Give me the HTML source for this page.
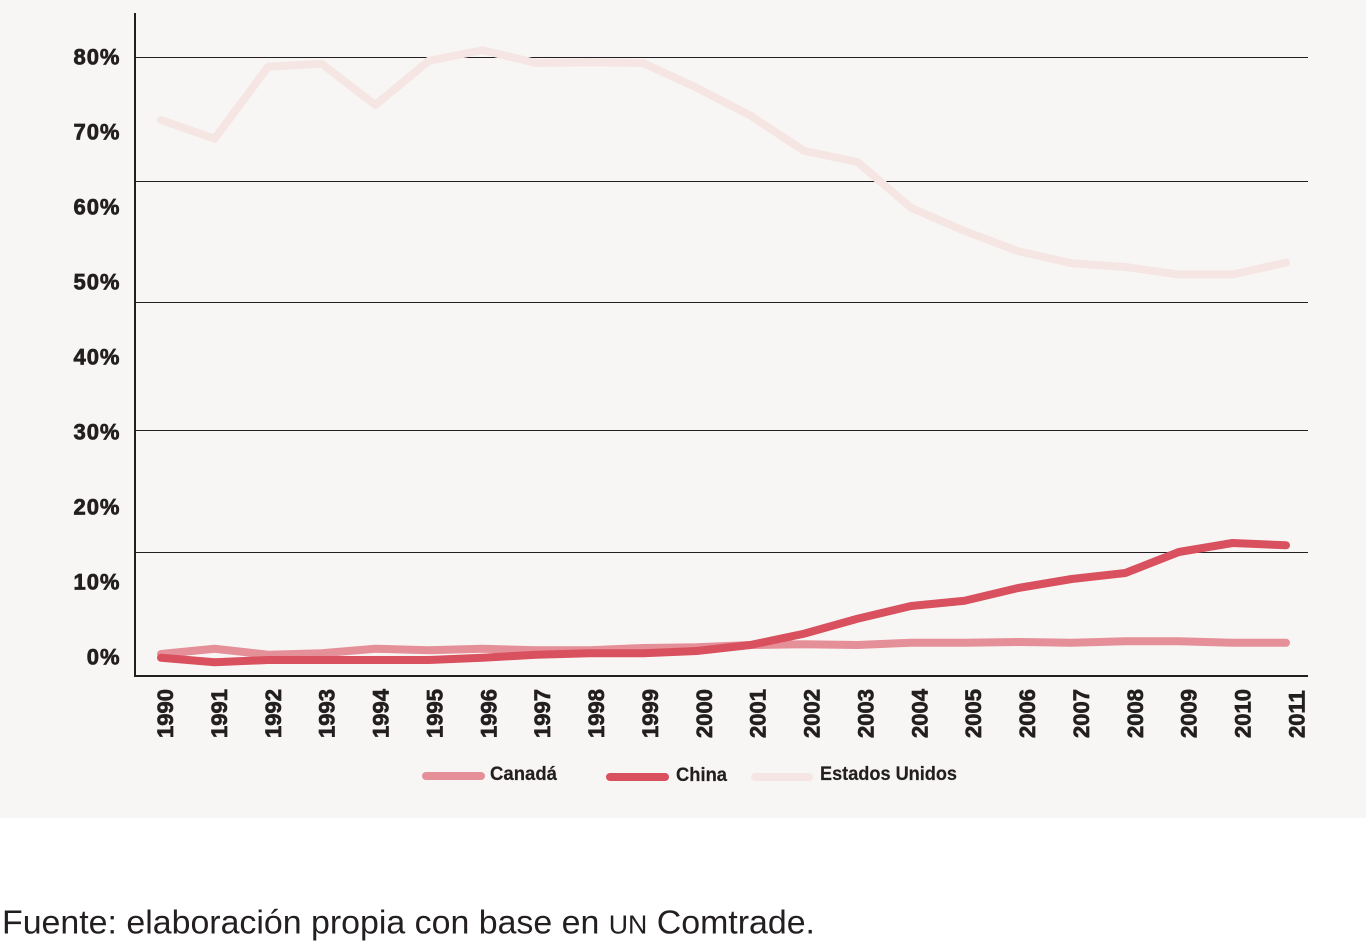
<!DOCTYPE html>
<html lang="es">
<head>
<meta charset="utf-8">
<title>Fuente: UN Comtrade</title>
<style>
html,body{margin:0;padding:0;background:#fff;width:1366px;height:942px;overflow:hidden}
svg{display:block}
text{font-family:"Liberation Sans",sans-serif;fill:#231f20}
.tick{font-weight:bold;font-size:22px;stroke:#231f20;stroke-width:0.7}
.leg{font-weight:bold;font-size:19px;stroke:#231f20;stroke-width:0.2}
</style>
</head>
<body>
<svg id="chart" width="1366" height="942" viewBox="0 0 1366 942" xmlns="http://www.w3.org/2000/svg">
<rect x="0" y="0" width="1366" height="818" fill="#f8f6f4"/>
<g id="grid"></g>
<g id="yticks"></g>
<g id="xticks"></g>
<g id="series"></g>
<rect x="134" y="13" width="2" height="664" fill="#231f20"/>
<rect x="134" y="675" width="1174" height="2" fill="#231f20"/>
<g>
<g>
<line x1="426" y1="776" x2="481" y2="776" stroke="#e58f98" stroke-width="8" stroke-linecap="round"/>
<text class="leg" x="490" y="780" textLength="67" lengthAdjust="spacingAndGlyphs">Canadá</text>
</g>
<g>
<line x1="610" y1="777" x2="665" y2="777" stroke="#d9505e" stroke-width="8" stroke-linecap="round"/>
<text class="leg" x="676" y="781" textLength="51" lengthAdjust="spacingAndGlyphs">China</text>
</g>
<g>
<line x1="755" y1="777" x2="809" y2="777" stroke="#f5e6e4" stroke-width="8" stroke-linecap="round"/>
<text class="leg" x="820" y="780" textLength="137" lengthAdjust="spacingAndGlyphs">Estados Unidos</text>
</g>
</g>
<text x="2" y="933.5" font-size="33" textLength="813" lengthAdjust="spacingAndGlyphs">Fuente: elaboración propia con base en <tspan font-size="26">UN</tspan> Comtrade.</text>
</svg>
<script>
const years = ["1990","1991","1992","1993","1994","1995","1996","1997","1998","1999","2000","2001","2002","2003","2004","2005","2006","2007","2008","2009","2010","2011"];
const canada = [0.4,1.1,0.3,0.5,1.1,0.9,1.1,0.9,0.9,1.2,1.3,1.6,1.7,1.6,1.9,1.9,2.0,1.9,2.1,2.1,1.9,1.9];
const china = [-0.1,-0.7,-0.4,-0.4,-0.4,-0.4,-0.1,0.3,0.5,0.5,0.8,1.6,3.1,5.1,6.8,7.5,9.2,10.4,11.2,14.0,15.2,14.9];
const estadosUnidos = [71.6,69.1,78.7,79.1,73.6,79.5,80.9,79.2,79.3,79.2,75.9,72.2,67.5,66.0,59.9,56.8,54.1,52.5,52.0,51.0,51.0,52.6];
const yTickValues = [0,10,20,30,40,50,60,70,80];
const gridValues = [80,63.5,47.4,30.3,14];

const NS = 'http://www.w3.org/2000/svg';
function xScale(i){ return 161 + i * (1286 - 161) / (years.length - 1); }
function xLabelScale(i){ return 173 + i * (1304.5 - 173) / (years.length - 1); }
function yScale(v){ return 657 - v * 7.5; }

const gridG = document.getElementById('grid');
gridValues.forEach(function(v){
  const l = document.createElementNS(NS, 'line');
  
  
  l.setAttribute('x1', 136);
  l.setAttribute('x2', 1308);
  l.setAttribute('y1', Math.round(yScale(v)) + 0.5);
  l.setAttribute('y2', Math.round(yScale(v)) + 0.5);
  l.setAttribute('stroke', '#231f20');
  l.setAttribute('stroke-width', 1);
  gridG.appendChild(l);
});

const yG = document.getElementById('yticks');
yTickValues.forEach(function(v){
  const t = document.createElementNS(NS, 'text');
  
  
  t.setAttribute('class', 'tick');
  t.setAttribute('x', 120.5);
  t.setAttribute('y', yScale(v) + 7.5);
  t.setAttribute('text-anchor', 'end');
  t.setAttribute('letter-spacing', '1');
  t.textContent = v + '%';
  yG.appendChild(t);
});

const xG = document.getElementById('xticks');
years.forEach(function(y, i){
  const t = document.createElementNS(NS, 'text');
  
  
  t.setAttribute('class', 'tick');
  t.setAttribute('transform', 'translate(' + xLabelScale(i) + ',738) rotate(-90)');
  t.textContent = y;
  xG.appendChild(t);
});

const sG = document.getElementById('series');
function drawSeries(values, color, name){
  const p = document.createElementNS(NS, 'polyline');
  
  
  p.setAttribute('points', values.map(function(v, i){ return xScale(i) + ',' + yScale(v); }).join(' '));
  p.setAttribute('fill', 'none');
  p.setAttribute('stroke', color);
  p.setAttribute('stroke-width', 8);
  p.setAttribute('stroke-linejoin', 'round');
  p.setAttribute('stroke-linecap', 'round');
  sG.appendChild(p);
}
drawSeries(estadosUnidos, '#f5e6e4', 'line-estados-unidos');
drawSeries(canada, '#e58f98', 'line-canada');
drawSeries(china, '#d9505e', 'line-china');
</script>
</body>
</html>
